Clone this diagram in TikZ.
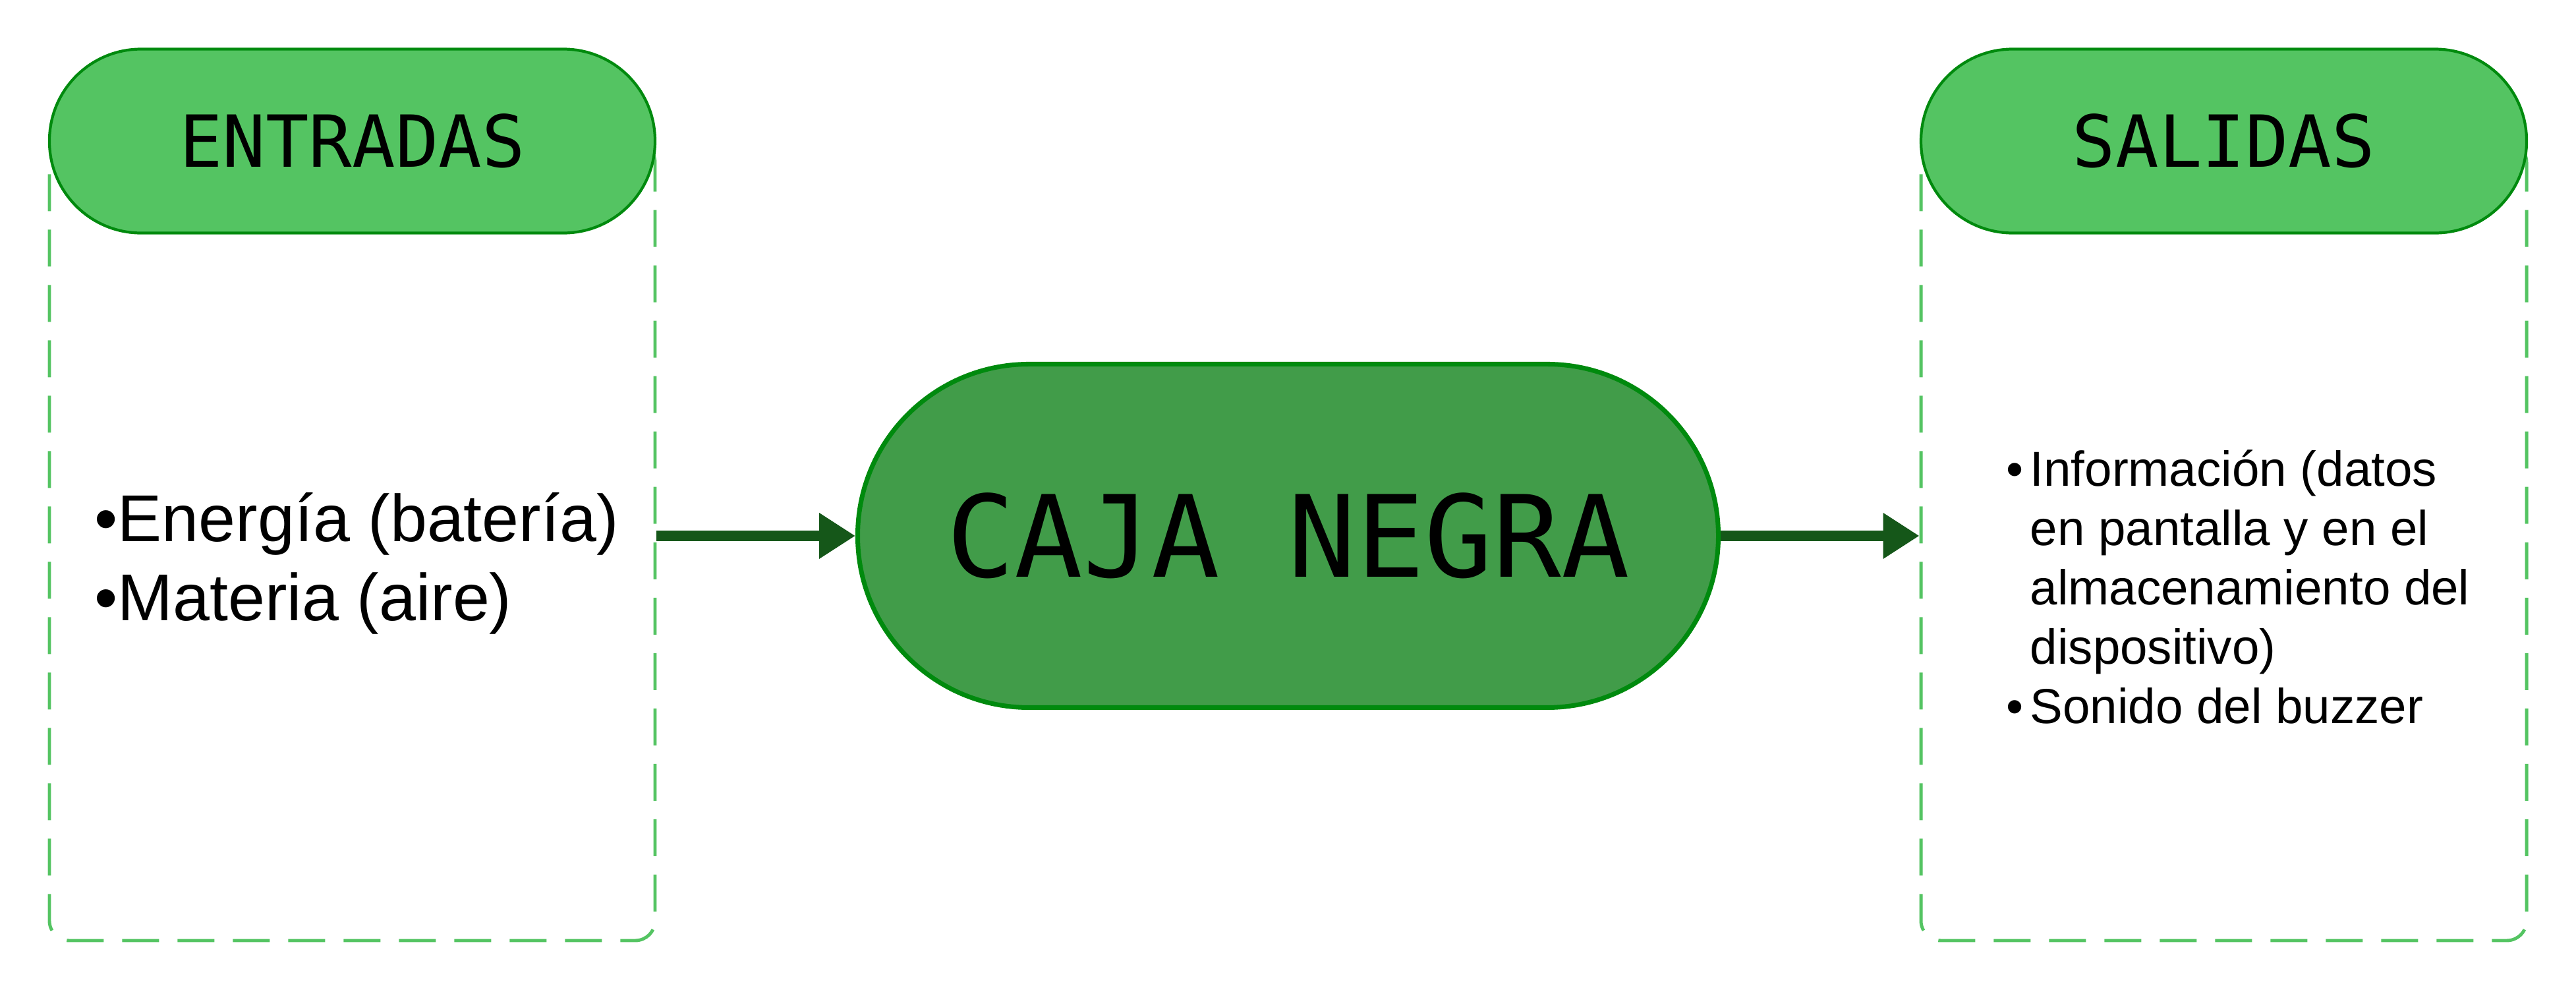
\documentclass[tikz,border=0pt]{standalone}
\usepackage{fontspec}
\setmainfont{Liberation Sans}
\newfontfamily\titlefont{DejaVu Sans Mono}
\usetikzlibrary{positioning, arrows.meta}
\definecolor{pillgreen}{HTML}{54C462}
\definecolor{edgegreen}{HTML}{008A0E}
\definecolor{cajagreen}{HTML}{419C49}
\definecolor{arrowgreen}{HTML}{155719}
\newcommand{\itm}{\textbullet\hspace{0.1cm}}

\begin{document}
\begin{tikzpicture}[
  pill/.style={draw=edgegreen, line width=1.2pt, fill=pillgreen, rounded corners=1.39cm,
    minimum width=9.19cm, minimum height=2.79cm, font=\titlefont\fontsize{31}{37}\selectfont},
  caja/.style={draw=edgegreen, line width=2pt, fill=cajagreen, rounded corners=2.6cm,
    minimum width=13.06cm, minimum height=5.21cm, font=\titlefont\fontsize{49}{59}\selectfont},
  dashedbox/.style={draw=pillgreen, line width=1.4pt, dash pattern=on 0.56cm off 0.28cm,
    rounded corners=0.3cm, minimum width=9.19cm, minimum height=12.105cm},
  listtext/.style={align=left, inner sep=0pt, anchor=west},
  flecha/.style={draw=arrowgreen, line width=4.4pt, -{Triangle[length=5.5mm, width=6.6mm]}}
]
\useasboundingbox (0,0) rectangle (39.09,15.02);

% Entradas
\node[dashedbox] (inbox) at (5.345,6.8025) {};
\node[pill] (entradas) at (inbox.north) {ENTRADAS};
\node[listtext, font=\fontsize{28.6}{34.3}\selectfont] (inlist) at (1.43,6.47) {
  \textbullet{}Energía (batería)\\
  \textbullet{}Materia (aire)
};

% Caja negra
\node[caja] (cajanegra) at (19.545,6.89) {CAJA NEGRA};

% Salidas
\node[dashedbox] (outbox) at (33.745,6.8025) {};
\node[pill] (salidas) at (outbox.north) {SALIDAS};
\node[listtext, font=\fontsize{21.2}{25.6}\selectfont] (outlist) at (30.44,6.12) {
  \itm Información (datos\\
  \phantom{\itm}en pantalla y en el\\
  \phantom{\itm}almacenamiento del\\
  \phantom{\itm}dispositivo)\\
  \itm Sonido del buzzer
};

% Flechas
\draw[flecha] (inbox.east |- cajanegra.west) -- (cajanegra.west);
\draw[flecha] (cajanegra.east) -- (outbox.west |- cajanegra.east);

\end{tikzpicture}
\end{document}
